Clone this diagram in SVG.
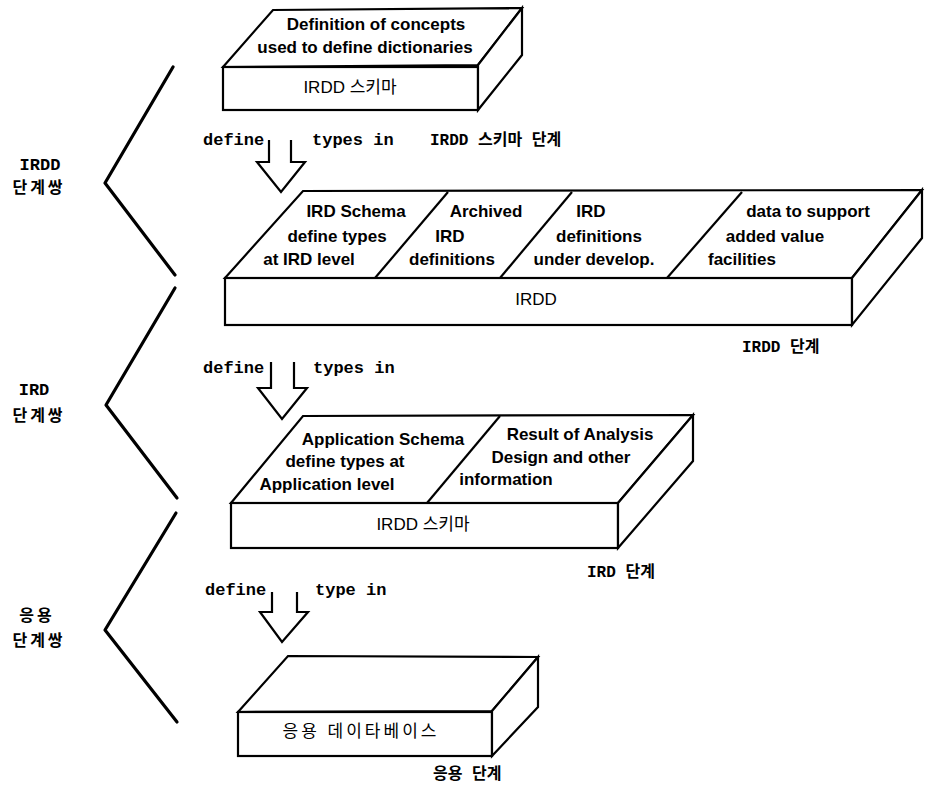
<svg xmlns="http://www.w3.org/2000/svg" width="925" height="791" viewBox="0 0 925 791">
<style>
.box{fill:#fff;stroke:#000;stroke-width:2.2;stroke-linejoin:miter}
.ln{fill:none;stroke:#000;stroke-width:2.2}
.zz{fill:none;stroke:#000;stroke-width:3.2;stroke-linecap:round;stroke-linejoin:round}
.cell{font-family:"Liberation Sans","Noto Sans CJK KR",sans-serif;font-size:17px;font-weight:bold;text-anchor:middle;fill:#000}
.front{font-family:"Liberation Sans","Noto Sans CJK KR",sans-serif;font-size:17px;text-anchor:middle;fill:#000}
.mono{font-family:"Liberation Mono","Noto Sans CJK KR",monospace;font-size:17px;font-weight:bold;fill:#000}
.lab{font-family:"Liberation Mono","Noto Sans CJK KR",monospace;font-size:16px;font-weight:bold;fill:#000}
.side{font-family:"Liberation Mono","Noto Sans CJK KR",monospace;font-size:17px;font-weight:bold;text-anchor:middle;fill:#000}
.sidek{font-family:"Noto Sans CJK KR",sans-serif;font-size:16px;font-weight:bold;text-anchor:middle;letter-spacing:3px;fill:#000}
</style>
<g id="stage-brackets">
<polyline class="zz" points="173,67 105,183 175,275"/>
<polyline class="zz" points="175,288 106,405 177,498"/>
<polyline class="zz" points="176,513 105,630 177,722"/>
<text class="side" x="40" y="170">IRDD</text>
<text class="sidek" x="39" y="193">단계쌍</text>
<text class="side" x="34" y="395">IRD</text>
<text class="sidek" x="39" y="421">단계쌍</text>
<text class="sidek" x="37" y="621">응용</text>
<text class="sidek" x="39" y="646">단계쌍</text>
</g>
<g id="node-irdd-schema">
<polygon class="box" points="223,67 273,10 522,8 478,65"/>
<rect class="box" x="223" y="67" width="255" height="43"/>
<polygon class="box" points="478,65 522,8 522,55 478,110"/>
<text class="cell" x="376" y="30">Definition of concepts</text>
<text class="cell" x="365" y="53">used to define dictionaries</text>
<text class="front" x="350" y="93">IRDD 스키마</text>
<text class="lab" x="430" y="145">IRDD 스키마 단계</text>
</g>
<g id="node-irdd">
<polygon class="box" points="225,278 303,191 922,190 852,278"/>
<rect class="box" x="225" y="278" width="627" height="47"/>
<polygon class="box" points="852,278 922,190 922,238 852,325"/>
<line class="ln" x1="375" y1="278" x2="448" y2="192"/>
<line class="ln" x1="500" y1="278" x2="572" y2="192"/>
<line class="ln" x1="667" y1="278" x2="742" y2="192"/>
<text class="cell" x="356" y="217">IRD Schema</text>
<text class="cell" x="337" y="242">define types</text>
<text class="cell" x="309" y="265">at IRD level</text>
<text class="cell" x="486" y="217">Archived</text>
<text class="cell" x="450" y="242">IRD</text>
<text class="cell" x="452" y="265">definitions</text>
<text class="cell" x="591" y="217">IRD</text>
<text class="cell" x="599" y="242">definitions</text>
<text class="cell" x="594" y="265">under develop.</text>
<text class="cell" x="808" y="217">data to support</text>
<text class="cell" x="775" y="242">added value</text>
<text class="cell" x="742" y="265">facilities</text>
<text class="front" x="536" y="305">IRDD</text>
<text class="lab" x="742" y="352">IRDD 단계</text>
</g>
<g id="node-ird">
<polygon class="box" points="231,503 303,416 693,415 618,503"/>
<rect class="box" x="231" y="503" width="387" height="45"/>
<polygon class="box" points="618,503 693,415 693,461 618,548"/>
<line class="ln" x1="427" y1="503" x2="500" y2="416"/>
<text class="cell" x="383" y="445">Application Schema</text>
<text class="cell" x="345" y="467">define types at</text>
<text class="cell" x="327" y="490">Application level</text>
<text class="cell" x="580" y="440">Result of Analysis</text>
<text class="cell" x="561" y="463">Design and other</text>
<text class="cell" x="506" y="485">information</text>
<text class="front" x="423" y="530">IRDD 스키마</text>
<text class="lab" x="587" y="577">IRD 단계</text>
</g>
<g id="node-app">
<polygon class="box" points="238,712 288,656 538,657 492,711"/>
<rect class="box" x="238" y="712" width="254" height="44"/>
<polygon class="box" points="492,711 538,657 538,707 492,756"/>
<text class="front" x="361" y="737" style="letter-spacing:3px">응용 데이타베이스</text>
<text class="lab" x="433" y="779">응용 단계</text>
</g>
<g id="connectors">
<path class="ln" d="M269,140 V162 H257 L281,192 L305,162 H291 V140"/>
<path class="ln" d="M271,362 V388 H258 L282,419 L307,388 H294 V362"/>
<path class="ln" d="M272,592 V612 H260 L282,642 L308,612 H297 V592"/>
<text class="mono" x="203" y="145">define</text>
<text class="mono" x="312" y="145">types in</text>
<text class="mono" x="203" y="373">define</text>
<text class="mono" x="313" y="373">types in</text>
<text class="mono" x="205" y="595">define</text>
<text class="mono" x="315" y="595">type in</text>
</g>
</svg>
